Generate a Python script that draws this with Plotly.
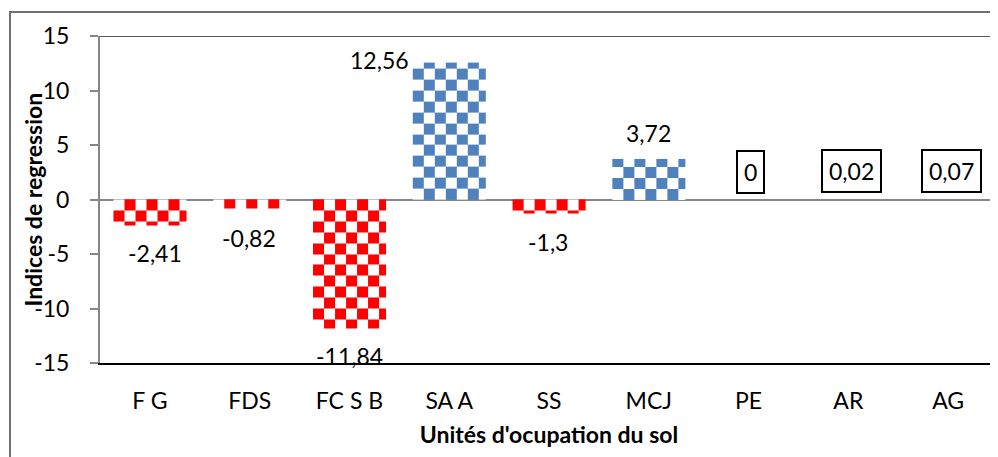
import numpy as np
import plotly.graph_objects as go

categories = ["F G", "FDS", "FC S B", "SA A", "SS", "MCJ", "PE", "AR", "AG"]
values = [-2.41, -0.82, -11.84, 12.56, -1.3, 3.72, 0, 0.02, 0.07]
y_ticks = [-15, -10, -5, 0, 5, 10, 15]

# styles (kept separate from data)
NEG_COLOR = "#FF0000"
POS_COLOR = "#4F81BD"
BAR_WIDTH = 0.73
CELL_W = 0.11   # checker cell width in category units
CELL_H = 1.0    # checker cell height in value units
FONT = "Lato"
FS = 23
# page has an 8px body margin: plot area left=100, top=36 in the window
L, T, PW, PH = 92, 28, 898, 327
W, H = 990, 449
label_shift = [(5, -27), (-1, -30), (0, -27), (-70, 3), (-1, -28), (0, 26), (2, 28), (3, 28), (3, 28)]
label_boxed = [False, False, False, False, False, False, True, True, True]

fig = go.Figure()

# invisible base bars (for structure/hover)
fig.add_trace(go.Bar(
    x=list(range(len(categories))), y=values, width=BAR_WIDTH,
    marker=dict(color="rgba(0,0,0,0)", line=dict(width=0)),
    hovertext=categories, hoverinfo="text+y", showlegend=False,
))

# checkerboard fill for each bar, built from the values
for i, v in enumerate(values):
    if abs(v) < 0.5:
        continue
    left = i - BAR_WIDTH / 2
    right = i + BAR_WIDTH / 2
    xe = list(np.arange(left, right, CELL_W)) + [right]
    sgn = 1 if v > 0 else -1
    ye = [sgn * k for k in np.arange(0, abs(v), CELL_H)] + [v]
    if v < 0:
        ye = ye[::-1]
    nx, ny = len(xe) - 1, len(ye) - 1
    z = [[(r + c) % 2 for c in range(nx)] for r in range(ny)]
    color = POS_COLOR if v > 0 else NEG_COLOR
    fig.add_trace(go.Heatmap(
        x=xe, y=ye, z=z, zmin=0, zmax=1,
        colorscale=[[0, "white"], [1, color]],
        showscale=False, hoverinfo="skip", zsmooth=False,
    ))

# data labels
for i, v in enumerate(values):
    txt = f"{v:g}".replace(".", ",")
    dx, dy = label_shift[i]
    boxed = label_boxed[i]
    fig.add_annotation(
        x=i, y=v, text=txt, showarrow=False,
        xshift=dx, yshift=dy,
        font=dict(family=FONT, size=FS, color="black"),
        bordercolor="black" if boxed else "rgba(0,0,0,0)",
        borderwidth=2 if boxed else 0,
        borderpad=6 if boxed else 0,
        bgcolor="white" if boxed else None,
    )

# y-axis title (overlaps tick labels slightly, as in the original)
fig.add_annotation(
    xref="paper", yref="paper", x=(32 - 100) / PW, y=0.5,
    text="<b>Indices de regression</b>", textangle=-90, showarrow=False,
    xanchor="center", yanchor="middle",
    font=dict(family=FONT, size=FS, color="black"),
)

# top border of plot area at y=15
fig.add_shape(type="line", xref="paper", yref="y", x0=0, x1=1, y0=15, y1=15,
              line=dict(color="#595959", width=2))
# outer chart border
fig.add_shape(type="rect", xref="paper", yref="paper",
              x0=(10 - 100) / PW, x1=1.2, y0=-0.5, y1=(363 - 12) / PH,
              line=dict(color="#707070", width=2), layer="above")

fig.update_layout(
    width=W, height=H,
    margin=dict(l=L, r=W - L - PW, t=T, b=H - T - PH, autoexpand=False),
    paper_bgcolor="white", plot_bgcolor="white",
    font=dict(family=FONT, size=FS, color="black"),
)
fig.update_xaxes(
    range=[-0.5, 8.5], tickmode="array",
    tickvals=list(range(len(categories))), ticktext=categories,
    showline=True, linecolor="black", linewidth=2,
    ticks="", showgrid=False, zeroline=False,
    ticklabelstandoff=16,
    tickfont=dict(family=FONT, size=FS, color="black"),
    title=dict(text="<b>Unités d'ocupation du sol</b>", standoff=14,
               font=dict(family=FONT, size=FS, color="black")),
)
fig.update_yaxes(
    range=[-15, 15], tickmode="array", tickvals=y_ticks,
    ticktext=[str(t) for t in y_ticks],
    showline=True, linecolor="#868686", linewidth=2,
    ticks="outside", ticklen=8, tickcolor="#868686", tickwidth=2,
    showgrid=False, zeroline=True, zerolinecolor="#868686", zerolinewidth=2,
    ticklabelstandoff=16,
    tickfont=dict(family=FONT, size=FS, color="black"),
)

fig.write_html("out.html")
